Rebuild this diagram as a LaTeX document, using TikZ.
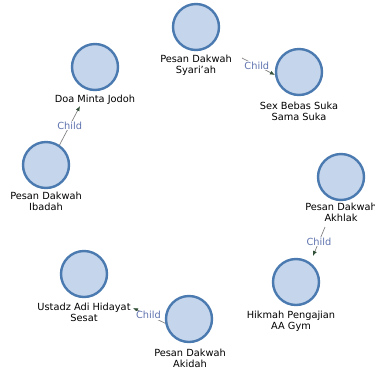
\documentclass[tikz,border=0pt]{standalone}
\usepackage{fontspec}
\setmainfont{DejaVu Sans}
\usetikzlibrary{arrows.meta,calc}
\definecolor{cfill}{RGB}{197,213,236}
\definecolor{cdraw}{RGB}{74,122,176}
\definecolor{cedge}{RGB}{130,130,130}
\definecolor{carrow}{RGB}{50,80,55}
\definecolor{cchild}{RGB}{95,115,175}
\tikzset{
  vert/.style={circle,draw=cdraw,fill=cfill,line width=2.4pt,minimum size=46pt,inner sep=0pt},
  lab/.style={anchor=north,inner sep=0pt,align=center,font=\fontsize{9.8}{11}\selectfont,text=black},
  edge/.style={draw=cedge,line width=0.7pt,-{Latex[length=5pt,width=4pt,color=carrow]}},
  elab/.style={fill=white,inner sep=0.8pt,text=cchild,font=\fontsize{9.8}{11}\selectfont}
}
\begin{document}
\begin{tikzpicture}[x=1pt,y=-1pt]
\useasboundingbox (0,0) rectangle (375,373);
% vertices
\node[vert] (S) at (196,27) {};
\node[vert] (SB) at (299,72) {};
\node[vert] (D) at (95,67) {};
\node[vert] (I) at (46,165) {};
\node[vert] (A) at (341,177) {};
\node[vert] (H) at (296,282) {};
\node[vert] (U) at (84,274) {};
\node[vert] (K) at (189,319) {};
% labels
\node[lab] (Sl) at (196,54.7) {Pesan Dakwah\\Syari'ah};
\node[lab] (SBl) at (299,101.7) {Sex Bebas Suka\\Sama Suka};
\node[lab] (Dl) at (95,94.7) {Doa Minta Jodoh};
\node[lab] (Il) at (46,191.7) {Pesan Dakwah\\Ibadah};
\node[lab] (Al) at (341,202.7) {Pesan Dakwah\\Akhlak};
\node[lab] (Hl) at (291,310.7) {Hikmah Pengajian\\AA Gym};
\node[lab] (Ul) at (84,302.7) {Ustadz Adi Hidayat\\Sesat};
\node[lab] (Kl) at (190,348.7) {Pesan Dakwah\\Akidah};
% edge end points
\coordinate (e1s) at (242,58);
\coordinate (e2e) at (80,106);
\coordinate (e3s) at (325,227);
\coordinate (e3e) at (313,256);
\coordinate (e4e) at (133,308);
% edges
\draw[edge] (e1s) -- node[elab,pos=0.45] (c1) {Child} (SB.187);
\draw[edge] (I.56) -- node[elab,pos=0.5] (c2) {Child} (e2e);
\draw[edge] (e3s) -- node[elab,pos=0.5] (c3) {Child} (e3e);
\draw[edge] (K.190) -- node[elab,pos=0.52] (c4) {Child} (e4e);
\end{tikzpicture}
\end{document}
